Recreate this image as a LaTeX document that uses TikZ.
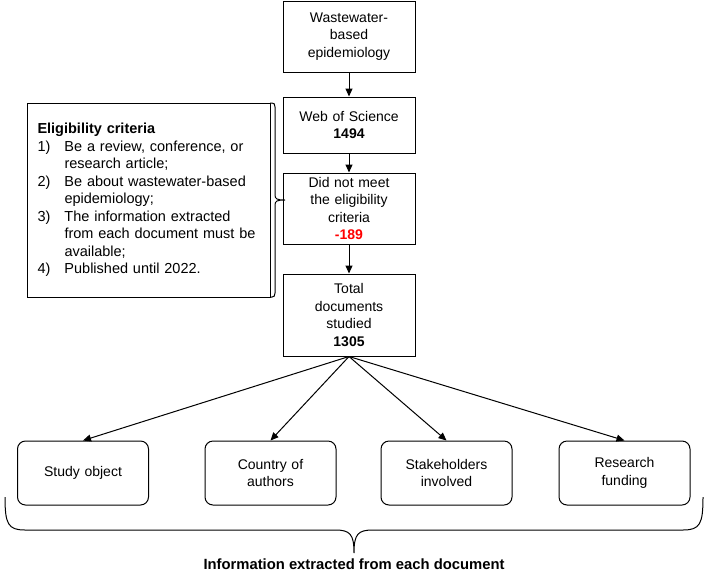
\documentclass[tikz,border=0pt]{standalone}
\usepackage{fontspec}
\setmainfont{Liberation Sans}
\usetikzlibrary{arrows.meta,positioning}

\newcommand{\critem}[2]{\par\noindent\hangindent=27pt\hangafter=1\makebox[27pt][l]{#1}#2}

\begin{document}
\begin{tikzpicture}[x=1pt,y=-1pt,line width=1pt,on grid,
    >={Triangle[length=8pt,width=7pt]},
    font=\fontsize{14}{17.5}\selectfont,
    flow/.style={draw,rectangle,text width=124pt,minimum width=132pt,align=center,inner sep=3pt},
    result/.style={draw,rounded corners=8pt,text width=121pt,minimum width=131pt,minimum height=64pt,align=center,inner sep=3pt},
    crit/.style={draw,text width=222pt,minimum width=243pt,minimum height=194pt,align=left,inner xsep=10.5pt,
      font=\fontsize{14.5}{17.5}\selectfont}]
			\useasboundingbox (0,0) rectangle (708,573);

			\node[flow,minimum height=71pt] (s_0) at (349,36.5) {Wastewater-\\based\\epidemiology};
			\node[flow,minimum height=56pt] (s_1) [below=88.5pt of s_0] {Web of Science\\\textbf{1494}};
			\node[flow,minimum height=71pt] (s_2) [below=83.5pt of s_1] {Did not meet\\the eligibility\\criteria\\\textcolor{red}{\textbf{-189}}};
			\node[flow,minimum height=82pt] (s_3) [below=106.5pt of s_2] {Total\\documents\\studied\\\textbf{1305}};

			\node[crit] (crit) at (148.5,200) {\textbf{Eligibility criteria}
				\critem{1)}{Be a review, conference, or\newline research article;}
				\critem{2)}{Be about wastewater-based\newline epidemiology;}
				\critem{3)}{The information extracted\newline from each document must be\newline available;}
				\critem{4)}{Published until 2022.}};

			\node[result] (r_1) at (83,473) {Study object};
			\node[result] (r_2) [right=187.5pt of r_1] {Country of\\authors};
			\node[result] (r_3) [right=176pt of r_2] {Stakeholders\\involved};
			\node[result] (r_4) [right=178pt of r_3] {Research\\funding};

			\node[font=\fontsize{14.8}{17.5}\selectfont] (info) at (354,564) {\textbf{Information extracted from each document}};

			\path[->]
			(s_0) edge (s_1)
			(s_1) edge (s_2)
			(s_2) edge (s_3)
			(s_3.south) edge (r_1.north)
			(s_3.south) edge (r_2.north)
			(s_3.south) edge (r_3.north)
			(s_3.south) edge (r_4.north);

			% bracket of the criteria
			\draw (270,103) -- (272,103) .. controls (274,103) and (275,104) .. (275,107) -- (275,195)
				.. controls (275,199) and (277,200) .. (285,200)
				.. controls (277,200) and (275,201) .. (275,205) -- (275,293)
				.. controls (275,296) and (274,297) .. (272,297) -- (270,297);
			% brace over the results
			\draw (5,497) .. controls (5,524) and (8,530) .. (25,530) -- (335,530)
				.. controls (350,530) and (354,534) .. (354,553)
				.. controls (354,534) and (358,530) .. (373,530) -- (683,530)
				.. controls (700,530) and (703,524) .. (703,497);
		\end{tikzpicture}
\end{document}
